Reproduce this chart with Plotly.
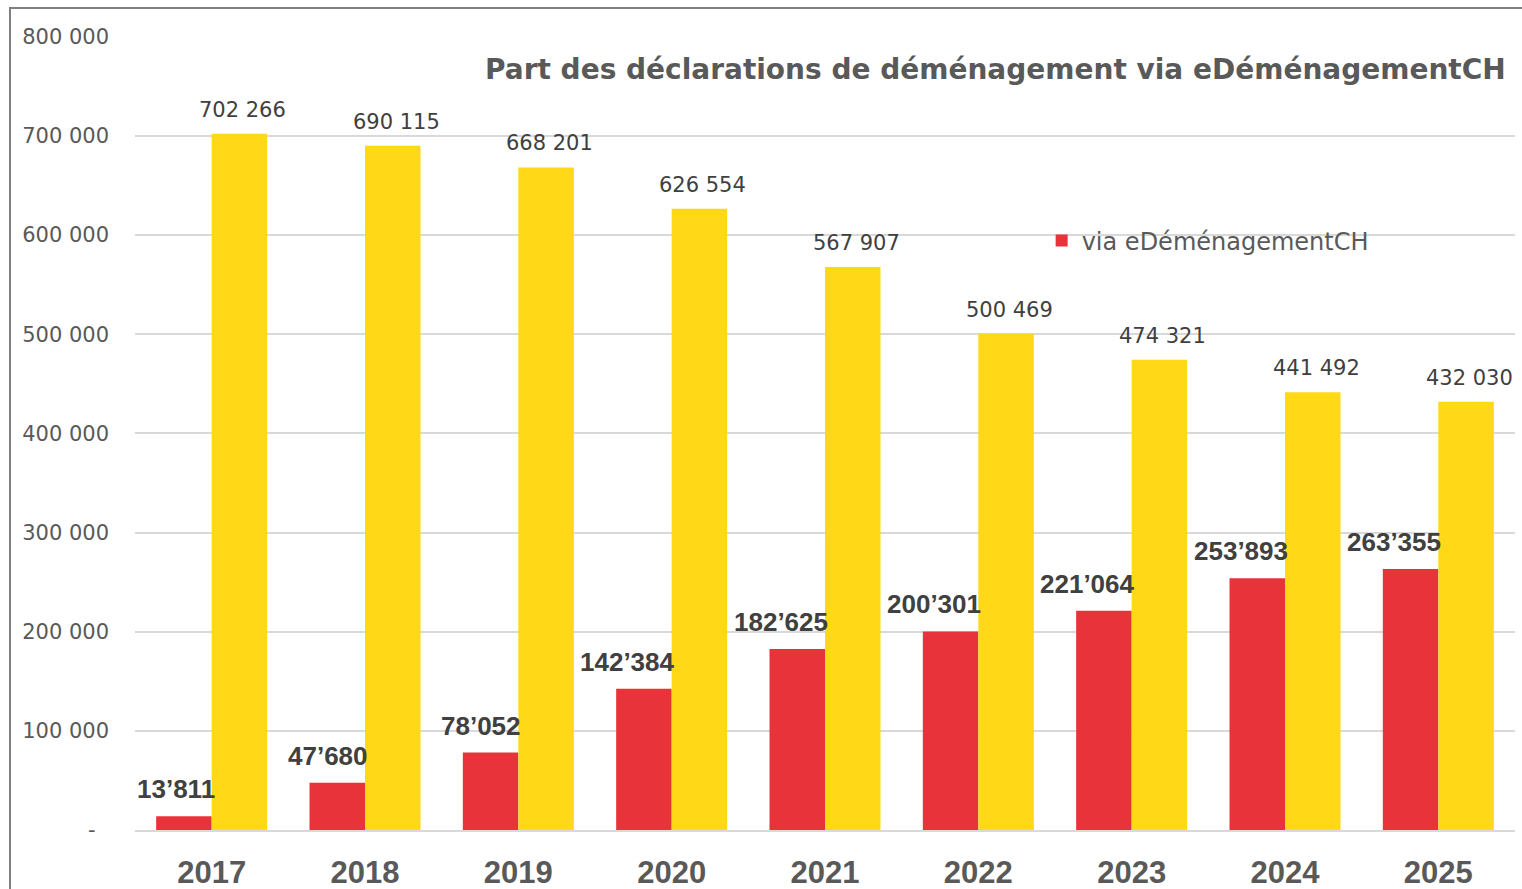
import plotly.graph_objects as go

years = ["2017", "2018", "2019", "2020", "2021", "2022", "2023", "2024", "2025"]
via_edem = [13811, 47680, 78052, 142384, 182625, 200301, 221064, 253893, 263355]
total = [702266, 690115, 668201, 626554, 567907, 500469, 474321, 441492, 432030]
tick_vals = [0, 100000, 200000, 300000, 400000, 500000, 600000, 700000, 800000]
tick_text = ["-\u00a0\u00a0", "100 000", "200 000", "300 000", "400 000",
             "500 000", "600 000", "700 000", "800 000"]
title_text = "Part des déclarations de déménagement via eDéménagementCH"
legend_name = "via eDéménagementCH"

RED = "#E8333A"
YEL = "#FFD817"
GRAY = "#595959"
GEO = "DejaVu Sans"
ARIAL = "Liberation Sans"

fig = go.Figure()
fig.add_trace(go.Bar(x=years, y=via_edem, name=legend_name, marker_color=RED,
                     marker_line_width=0, showlegend=True))
fig.add_trace(go.Bar(x=years, y=total, name="Total", marker_color=YEL,
                     marker_line_width=0, showlegend=False))

annotations = []
for i, v in enumerate(via_edem):
    annotations.append(dict(x=i, y=v, xref="x", yref="y",
                            text=f"{v:,}".replace(",", "\u2019"),
                            showarrow=False, xanchor="right", yanchor="bottom",
                            xshift=5, yshift=10,
                            font=dict(family=ARIAL, size=26, color="#404040", weight="bold")))
for i, v in enumerate(total):
    annotations.append(dict(x=i, y=v, xref="x", yref="y",
                            text=f"{v:,}".replace(",", " "),
                            showarrow=False, xanchor="center", yanchor="bottom",
                            xshift=31, yshift=10,
                            font=dict(family=GEO, size=21, color="#404040")))
annotations.append(dict(x=0.995, y=0.958, xref="paper", yref="paper", text=title_text,
                        showarrow=False, xanchor="right", yanchor="middle",
                        font=dict(family=GEO, size=28, color=GRAY, weight="bold")))

fig.update_layout(
    width=1522, height=889,
    margin=dict(l=135, r=7, t=36, b=59),
    paper_bgcolor="white", plot_bgcolor="white",
    barmode="group", bargap=0.276, bargroupgap=0,
    annotations=annotations,
    legend=dict(x=0.657, y=0.742, xanchor="left", yanchor="middle",
                bgcolor="rgba(0,0,0,0)", font=dict(family=GEO, size=24, color=GRAY)),
    shapes=[dict(type="rect", xref="paper", yref="paper",
                 x0=(10 - 135) / 1380, x1=1.2, y0=-0.3, y1=(830 - 8) / 794,
                 line=dict(color="#808080", width=2), layer="below")],
)
fig.update_xaxes(type="category", range=[-0.5, 8.5], automargin=False,
                 showgrid=False, showline=True, linecolor="#d9d9d9",
                 linewidth=2, ticks="", ticklabelstandoff=14,
                 tickfont=dict(family=ARIAL, size=31, color=GRAY, weight="bold"))
fig.update_yaxes(range=[0, 800800], tickvals=tick_vals, ticktext=tick_text,
                 automargin=False,
                 showgrid=True, gridcolor="#d9d9d9", gridwidth=2, zeroline=False,
                 showline=False, ticks="", ticklabelstandoff=25,
                 tickfont=dict(family=GEO, size=21, color=GRAY))

fig.write_html("out.html", config={"displayModeBar": False},
               post_script="document.body.style.margin='0';")
